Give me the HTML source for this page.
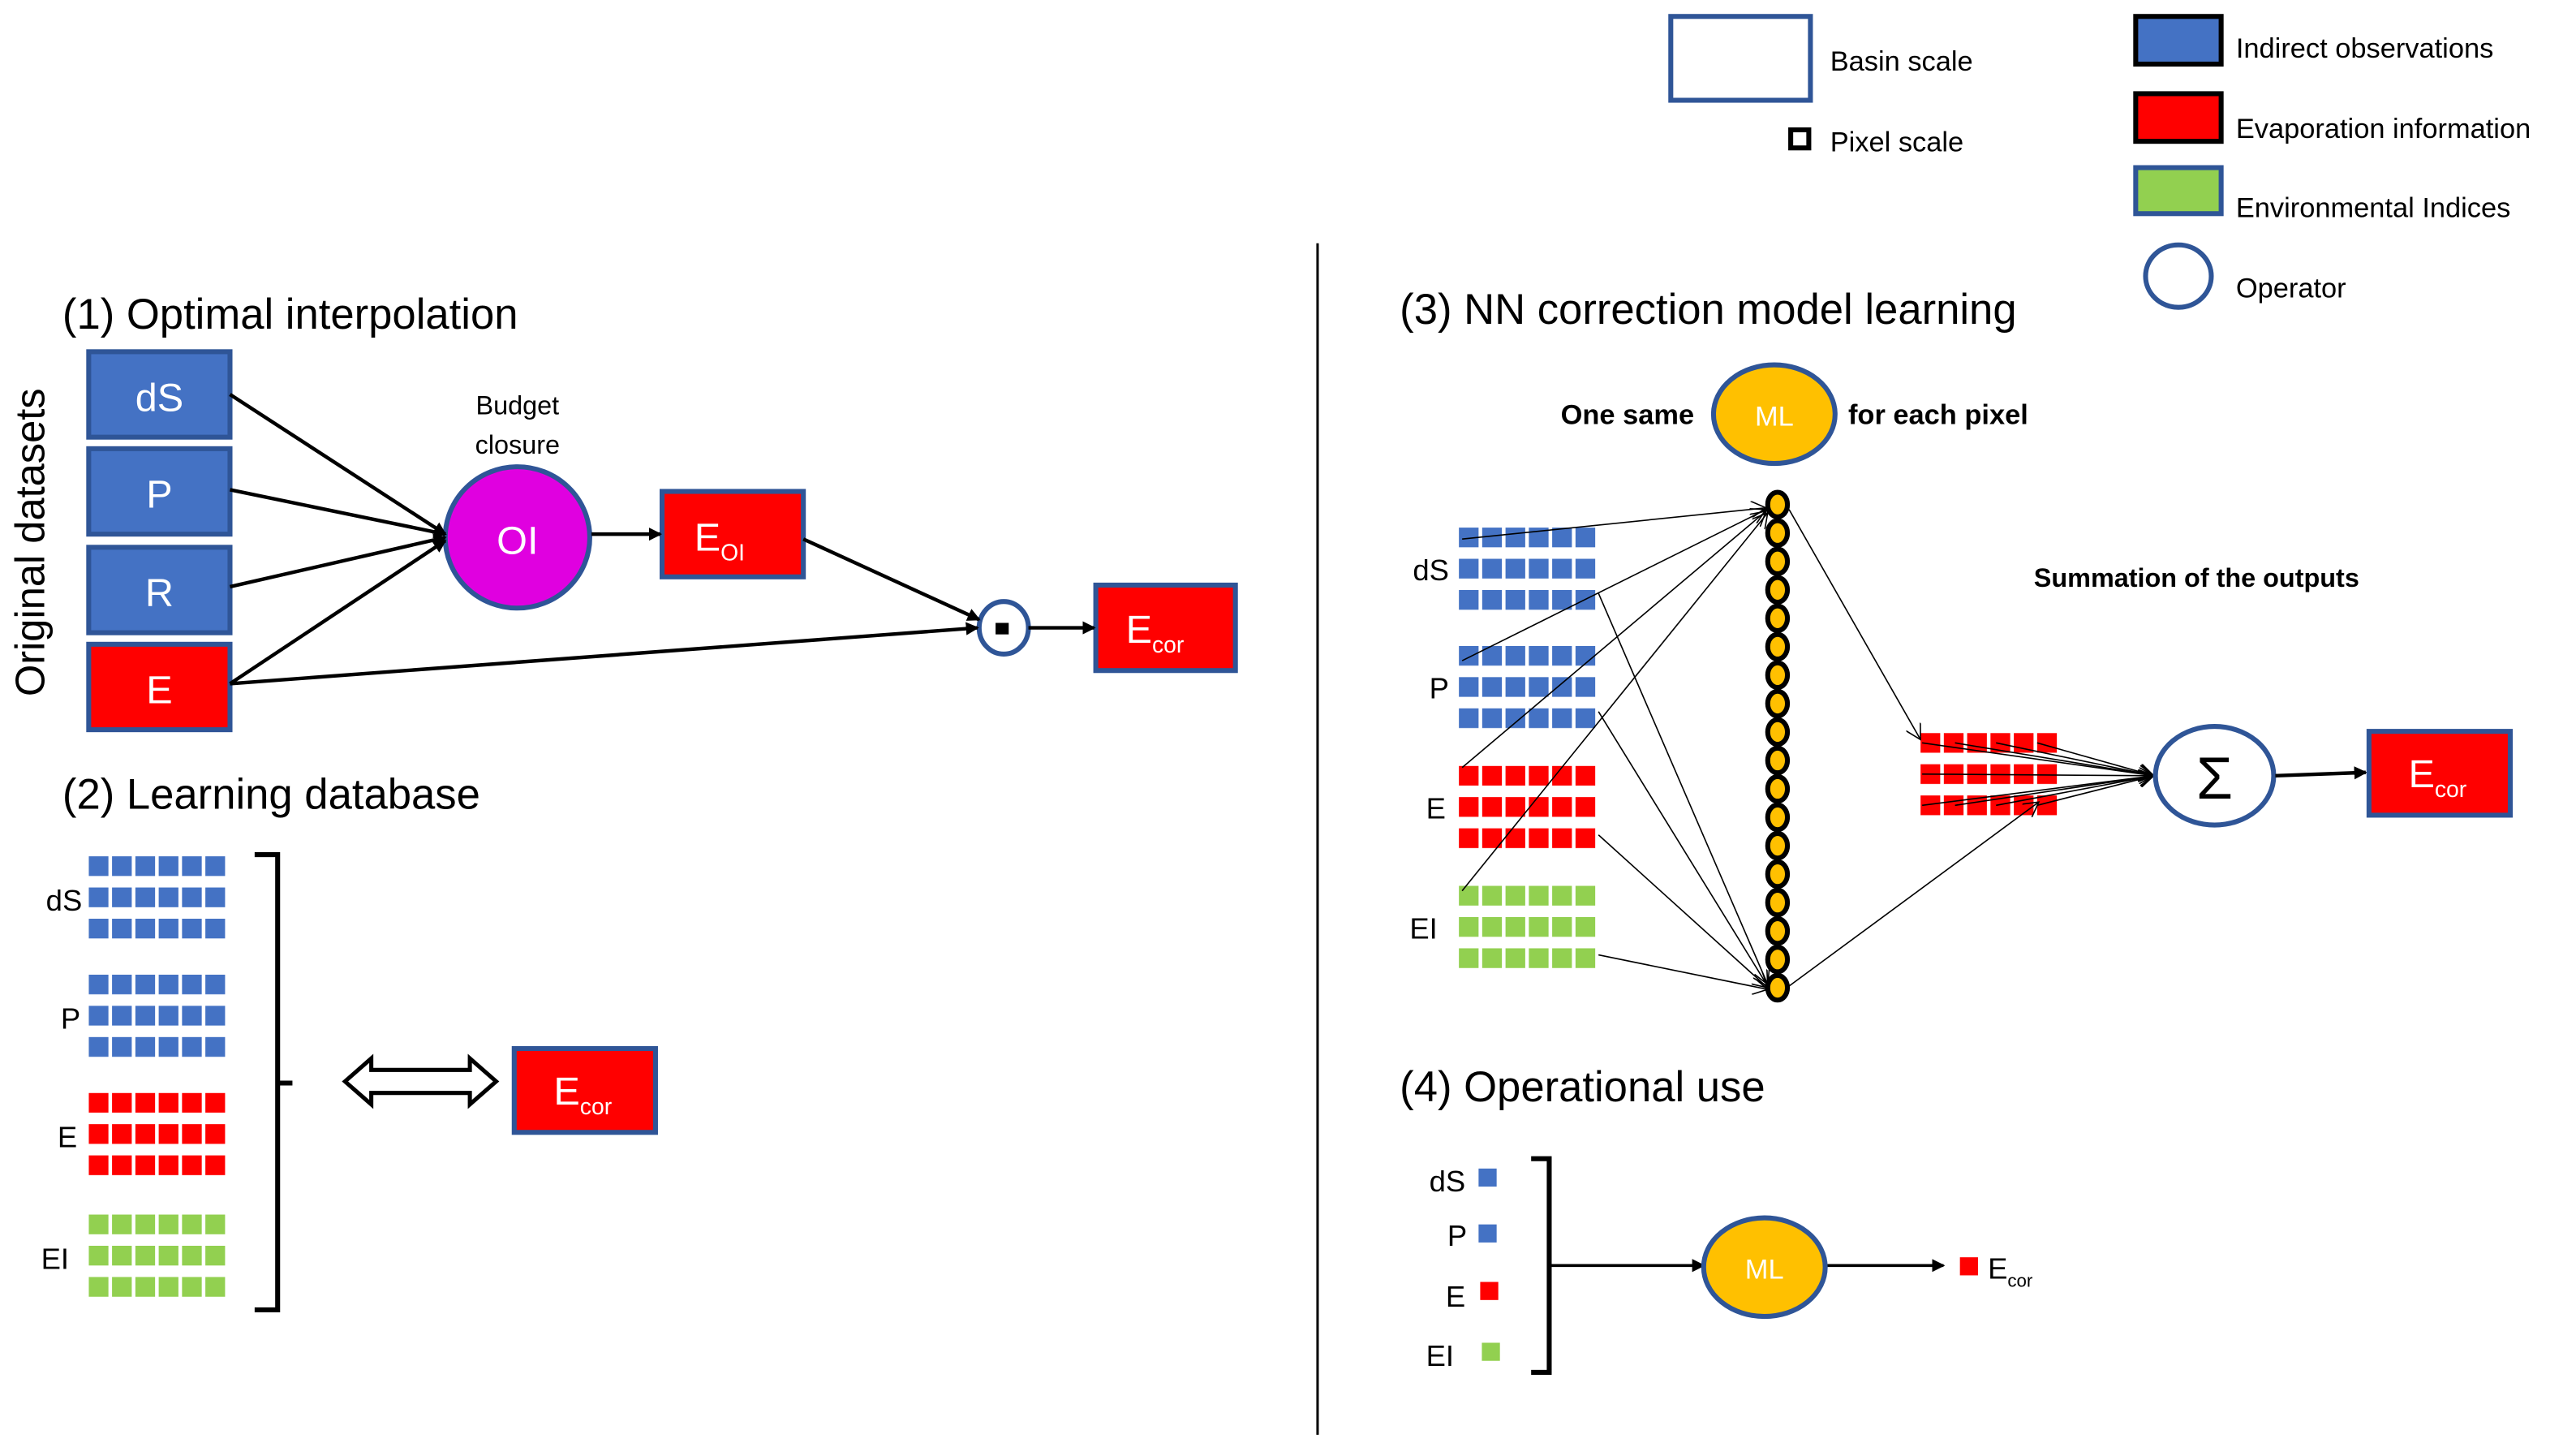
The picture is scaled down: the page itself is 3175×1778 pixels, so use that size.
<!DOCTYPE html>
<html><head><meta charset="utf-8"><style>html,body{margin:0;padding:0;background:#fff}svg{display:block}text{font-family:"Liberation Sans",sans-serif}</style></head><body>
<svg width="3175" height="1778" viewBox="0 0 1568 878" preserveAspectRatio="none" xmlns="http://www.w3.org/2000/svg">
<defs>
<marker id="a" markerWidth="8" markerHeight="8" refX="7" refY="4" orient="auto" markerUnits="userSpaceOnUse"><path d="M0,0 L8,4 L0,8 Z" fill="#000"/></marker>
<marker id="as" markerWidth="10" markerHeight="10" refX="9" refY="5" orient="auto" markerUnits="userSpaceOnUse"><path d="M0,0 L9,5 L0,10" fill="none" stroke="#000" stroke-width="0.8"/></marker>
<pattern id="pb" width="14.2" height="19" patternUnits="userSpaceOnUse"><rect width="12" height="12" fill="#4472C4"/></pattern>
<pattern id="pr" width="14.2" height="19" patternUnits="userSpaceOnUse"><rect width="12" height="12" fill="#FF0000"/></pattern>
<pattern id="pg" width="14.2" height="19" patternUnits="userSpaceOnUse"><rect width="12" height="12" fill="#92D050"/></pattern>
</defs>
<g fill="none" stroke="#2F5597" stroke-width="3"><rect x="1017" y="10" width="85" height="51"/></g>
<rect x="1090" y="79" width="11" height="11" fill="#fff" stroke="#000" stroke-width="3"/>
<text x="1114" y="43" font-size="17">Basin scale</text>
<text x="1114" y="92" font-size="17">Pixel scale</text>
<rect x="1300" y="10" width="52" height="29" fill="#4472C4" stroke="#000" stroke-width="3"/>
<rect x="1300" y="57" width="52" height="29" fill="#FF0000" stroke="#000" stroke-width="3"/>
<rect x="1300" y="102" width="52" height="28" fill="#92D050" stroke="#2F5597" stroke-width="3"/>
<ellipse cx="1326" cy="168" rx="20" ry="19" fill="#fff" stroke="#2F5597" stroke-width="3"/>
<text x="1361" y="35" font-size="17">Indirect observations</text>
<text x="1361" y="84" font-size="17">Evaporation information</text>
<text x="1361" y="132" font-size="17">Environmental Indices</text>
<text x="1361" y="181" font-size="17">Operator</text>
<line x1="802" y1="148" x2="802" y2="873" stroke="#000" stroke-width="1.5"/>
<!-- (1) -->
<text x="38" y="200" font-size="26">(1) Optimal interpolation</text>
<text transform="translate(27,330) rotate(-90)" text-anchor="middle" font-size="25">Original datasets</text>
<g stroke="#2F5597" stroke-width="3">
<rect x="54" y="214" width="86" height="52" fill="#4472C4"/>
<rect x="54" y="273" width="86" height="52" fill="#4472C4"/>
<rect x="54" y="333" width="86" height="52" fill="#4472C4"/>
<rect x="54" y="392" width="86" height="52" fill="#FF0000"/>
<rect x="403" y="299" width="86" height="52" fill="#FF0000"/>
<rect x="667" y="356" width="85" height="52" fill="#FF0000"/>
<ellipse cx="315" cy="327" rx="44" ry="43" fill="#E000E0"/>
<ellipse cx="611" cy="382" rx="15" ry="16" fill="#fff"/>
</g>
<g fill="#fff" font-size="24" text-anchor="middle">
<text x="97" y="250">dS</text><text x="97" y="309">P</text><text x="97" y="369">R</text><text x="97" y="428">E</text>
<text x="315" y="337">OI</text>
<text x="438" y="335">E<tspan font-size="14" dy="6">OI</tspan></text>
<text x="703" y="391">E<tspan font-size="14" dy="6">cor</tspan></text>
</g>
<rect x="606" y="379" width="8" height="7" fill="#000"/>
<text x="315" y="252" font-size="16" text-anchor="middle">Budget</text>
<text x="315" y="276" font-size="16" text-anchor="middle">closure</text>
<g stroke="#000" stroke-width="2.2" marker-end="url(#a)">
<line x1="140" y1="240" x2="271" y2="325"/>
<line x1="140" y1="298" x2="271" y2="325"/>
<line x1="140" y1="357" x2="271" y2="327"/>
<line x1="140" y1="416" x2="271" y2="329"/>
<line x1="360" y1="325" x2="402" y2="325"/>
<line x1="489" y1="328" x2="596" y2="377"/>
<line x1="140" y1="416" x2="595" y2="382"/>
<line x1="626" y1="382" x2="666" y2="382"/>
</g>
<!-- (2) -->
<text x="38" y="492" font-size="26">(2) Learning database</text>
<g transform="translate(54,521)"><rect width="84" height="52" fill="url(#pb)"/></g>
<g transform="translate(54,593)"><rect width="84" height="52" fill="url(#pb)"/></g>
<g transform="translate(54,665)"><rect width="84" height="52" fill="url(#pr)"/></g>
<g transform="translate(54,739)"><rect width="84" height="52" fill="url(#pg)"/></g>
<g font-size="18"><text x="28" y="554">dS</text><text x="37" y="626">P</text><text x="35" y="698">E</text><text x="25" y="772">EI</text></g>
<path d="M155,520 H169 V797 H155 M169,659 H178" fill="none" stroke="#000" stroke-width="3"/>
<path d="M210,658 L226,644 V651 H286 V644 L302,658 L286,672 V665 H226 V672 Z" fill="#fff" stroke="#000" stroke-width="2.5"/>
<rect x="313" y="638" width="86" height="51" fill="#FF0000" stroke="#2F5597" stroke-width="3"/>
<text x="337" y="672" font-size="24" fill="#fff">E<tspan font-size="14" dy="6">cor</tspan></text>
<!-- (3) -->
<text x="852" y="197" font-size="26">(3) NN correction model learning</text>
<ellipse cx="1080" cy="252" rx="37" ry="30" fill="#FFC000" stroke="#2F5597" stroke-width="3"/>
<text x="1080" y="259" font-size="17" fill="#fff" text-anchor="middle">ML</text>
<text x="950" y="258" font-size="17" font-weight="bold">One same</text>
<text x="1125" y="258" font-size="17" font-weight="bold">for each pixel</text>
<text x="1238" y="357" font-size="16" font-weight="bold">Summation of the outputs</text>
<g transform="translate(888,321)"><rect width="84" height="52" fill="url(#pb)"/></g>
<g transform="translate(888,393)"><rect width="84" height="52" fill="url(#pb)"/></g>
<g transform="translate(888,466)"><rect width="84" height="52" fill="url(#pr)"/></g>
<g transform="translate(888,539)"><rect width="84" height="52" fill="url(#pg)"/></g>
<g transform="translate(1169,446)"><rect width="84" height="52" fill="url(#pr)"/></g>
<g font-size="18"><text x="860" y="353">dS</text><text x="870" y="425">P</text><text x="868" y="498">E</text><text x="858" y="571">EI</text></g>
<g fill="#FFC000" stroke="#000" stroke-width="3">
<ellipse cx="1082" cy="307" rx="6" ry="7.5"/><ellipse cx="1082" cy="324.3" rx="6" ry="7.5"/><ellipse cx="1082" cy="341.6" rx="6" ry="7.5"/><ellipse cx="1082" cy="358.9" rx="6" ry="7.5"/><ellipse cx="1082" cy="376.2" rx="6" ry="7.5"/><ellipse cx="1082" cy="393.5" rx="6" ry="7.5"/><ellipse cx="1082" cy="410.8" rx="6" ry="7.5"/><ellipse cx="1082" cy="428.1" rx="6" ry="7.5"/><ellipse cx="1082" cy="445.4" rx="6" ry="7.5"/><ellipse cx="1082" cy="462.7" rx="6" ry="7.5"/><ellipse cx="1082" cy="480" rx="6" ry="7.5"/><ellipse cx="1082" cy="497.3" rx="6" ry="7.5"/><ellipse cx="1082" cy="514.6" rx="6" ry="7.5"/><ellipse cx="1082" cy="531.9" rx="6" ry="7.5"/><ellipse cx="1082" cy="549.2" rx="6" ry="7.5"/><ellipse cx="1082" cy="566.5" rx="6" ry="7.5"/><ellipse cx="1082" cy="583.8" rx="6" ry="7.5"/><ellipse cx="1082" cy="601" rx="6" ry="7.5"/>
</g>
<g stroke="#000" stroke-width="0.8" marker-end="url(#as)">
<line x1="890" y1="328" x2="1075" y2="309"/>
<line x1="890" y1="402" x2="1075" y2="310"/>
<line x1="890" y1="467" x2="1075" y2="311"/>
<line x1="890" y1="542" x2="1076" y2="312"/>
<line x1="973" y1="361" x2="1076" y2="599"/>
<line x1="973" y1="433" x2="1076" y2="600"/>
<line x1="973" y1="508" x2="1076" y2="601"/>
<line x1="973" y1="581" x2="1076" y2="602"/>
<line x1="1089" y1="310" x2="1169" y2="450"/>
<line x1="1089" y1="600" x2="1241" y2="488"/>
<line x1="1170" y1="452" x2="1311" y2="472"/>
<line x1="1190" y1="452" x2="1311" y2="472"/>
<line x1="1215" y1="452" x2="1311" y2="472"/>
<line x1="1240" y1="452" x2="1311" y2="472"/>
<line x1="1170" y1="471" x2="1311" y2="472"/>
<line x1="1170" y1="490" x2="1311" y2="472"/>
<line x1="1190" y1="490" x2="1311" y2="472"/>
<line x1="1215" y1="490" x2="1311" y2="472"/>
<line x1="1240" y1="490" x2="1311" y2="472"/>
</g>
<ellipse cx="1348" cy="472" rx="36" ry="30" fill="#fff" stroke="#2F5597" stroke-width="3"/>
<text x="1348" y="486" font-size="36" text-anchor="middle">Σ</text>
<line x1="1385" y1="472" x2="1440" y2="470" stroke="#000" stroke-width="2.2" marker-end="url(#a)"/>
<rect x="1442" y="445" width="86" height="51" fill="#FF0000" stroke="#2F5597" stroke-width="3"/>
<text x="1466" y="479" font-size="24" fill="#fff">E<tspan font-size="14" dy="6">cor</tspan></text>
<!-- (4) -->
<text x="852" y="670" font-size="26">(4) Operational use</text>
<rect x="900" y="711" width="11" height="11" fill="#4472C4"/>
<rect x="900" y="745" width="11" height="11" fill="#4472C4"/>
<rect x="901" y="780" width="11" height="11" fill="#FF0000"/>
<rect x="902" y="817" width="11" height="11" fill="#92D050"/>
<g font-size="18"><text x="870" y="725">dS</text><text x="881" y="758">P</text><text x="880" y="795">E</text><text x="868" y="831">EI</text></g>
<path d="M932,705 H943 V835 H932" fill="none" stroke="#000" stroke-width="3"/>
<g stroke="#000" stroke-width="1.8" marker-end="url(#a)">
<line x1="943" y1="770" x2="1037" y2="770"/>
<line x1="1112" y1="770" x2="1183" y2="770"/>
</g>
<ellipse cx="1074" cy="771" rx="37" ry="30" fill="#FFC000" stroke="#2F5597" stroke-width="3"/>
<text x="1074" y="778" font-size="17" fill="#fff" text-anchor="middle">ML</text>
<rect x="1193" y="765" width="11" height="11" fill="#FF0000"/>
<text x="1210" y="778" font-size="18">E<tspan font-size="11" dy="5">cor</tspan></text>
</svg>
</body></html>
